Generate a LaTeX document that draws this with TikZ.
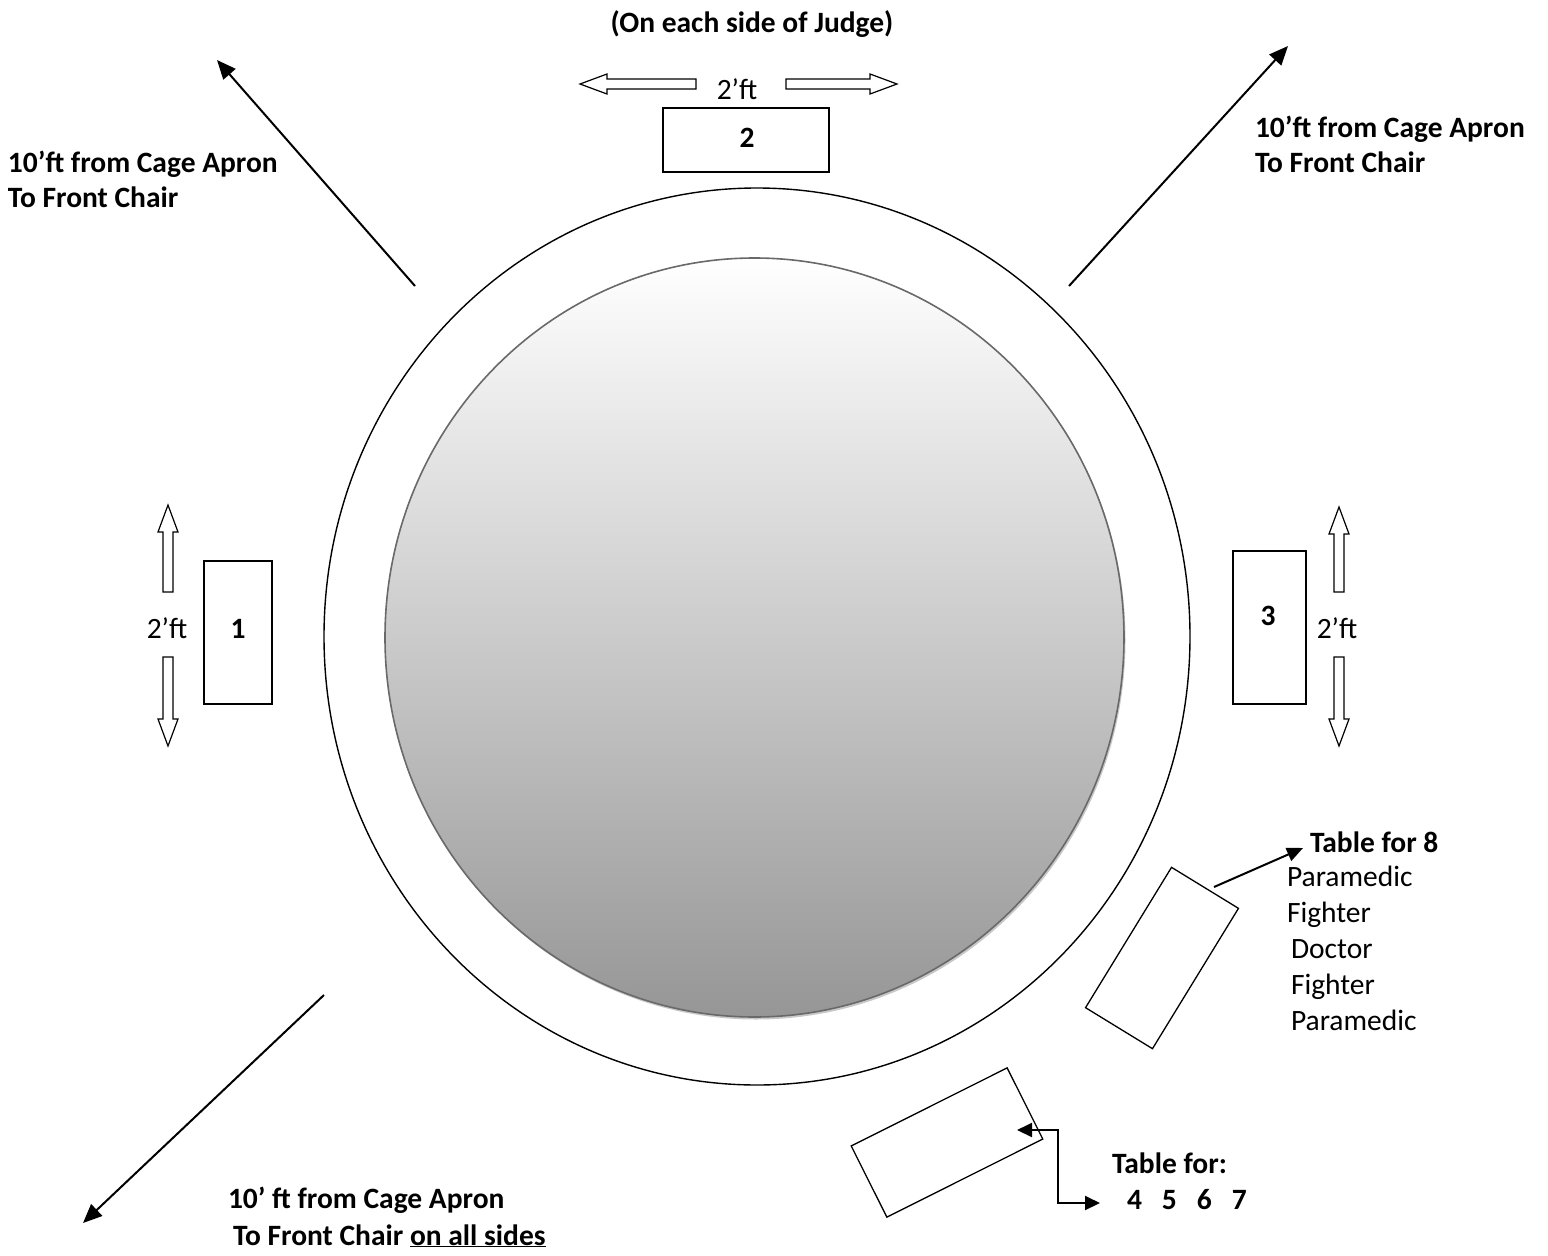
\documentclass[tikz,border=0pt]{standalone}
\usepackage{fontspec}
\setmainfont{Carlito}
\usetikzlibrary{arrows.meta}
\definecolor{rimgray}{RGB}{105,105,105}
\definecolor{shgray}{RGB}{200,200,200}
\definecolor{botgray}{RGB}{150,150,150}
\begin{document}
\begin{tikzpicture}[x=1pt,y=-1pt,
  txt/.style={inner sep=0pt, outer sep=0pt, font=\fontsize{29.5}{36}\selectfont, anchor=base west},
  btxt/.style={txt, font=\fontsize{29.5}{36}\selectfont\bfseries},
  ctxt/.style={txt, anchor=base},
  cbtxt/.style={btxt, anchor=base},
  judgebox/.style={draw, line width=1.3pt, inner sep=0pt, outer sep=0pt},
  diag/.style={line width=2pt, -{Triangle[length=19pt,width=16pt]}},
  thin arr/.style={line width=2pt, -{Triangle[length=16pt,width=14pt]}},
  both arr/.style={line width=2pt, {Triangle[length=15pt,width=14pt]}-{Triangle[length=15pt,width=14pt]}},
  pics/blockarr/.style={code={
    \draw[line width=1.2pt, fill=white] (0,-5) -- ({#1-27},-5) -- ({#1-27},-10) -- (#1,0)
      -- ({#1-27},10) -- ({#1-27},5) -- (0,5) -- cycle;}}
]
\useasboundingbox (0,0) rectangle (1548,1256);

% ring
\draw[line width=1.4pt] (757,636.5) ellipse [x radius=433pt, y radius=448.5pt];
% inner shaded disc with slight shadow
\fill[shgray] (756,640) ellipse [x radius=369.5pt, y radius=379.5pt];
\shade[top color=white, bottom color=botgray, draw=rimgray, line width=1.6pt]
  (754.5,637.5) ellipse [x radius=369.5pt, y radius=379.5pt];

% judge tables
\node[judgebox, minimum width=166pt, minimum height=64pt] (t2) at (746,140) {};
\node[judgebox, minimum width=68pt, minimum height=143pt] (t1) at (238,632.5) {};
\node[judgebox, minimum width=73pt, minimum height=153pt] (t3) at (1269.5,627.5) {};
\node[cbtxt] (l2) at (747,147) {2};
\node[cbtxt] (l1) at (238,638) {1};
\node[cbtxt] (l3) at (1268,625) {3};

% 2'ft labels and block arrows
\node[cbtxt] (judge) at (752,32) {(On each side of Judge)};
\node[ctxt] (d2) at (737,99) {2’ft};
\node[ctxt] (d1) at (167,638) {2’ft};
\node[ctxt] (d3) at (1337,638) {2’ft};
\pic[rotate=180] at (696,84) {blockarr=116};
\pic at (786,84) {blockarr=111};
\pic[rotate=90] at (168,592) {blockarr=87};
\pic[rotate=-90] at (168,657) {blockarr=89};
\pic[rotate=90] at (1339,592) {blockarr=85};
\pic[rotate=-90] at (1339,657) {blockarr=89};

% diagonal distance arrows
\coordinate (tlS) at (415,286); \coordinate (tlE) at (217,60);
\coordinate (trS) at (1069,286); \coordinate (trE) at (1288,46);
\coordinate (blS) at (324,995); \coordinate (blE) at (83,1223);
\draw[diag] (tlS) -- (tlE);
\draw[diag] (trS) -- (trE);
\draw[diag] (blS) -- (blE);

% distance texts
\node[btxt] (lt1) at (8,172) {10’ft from Cage Apron};
\node[btxt] (lt2) at (8,207) {To Front Chair};
\node[btxt] (rt1) at (1255,137) {10’ft from Cage Apron};
\node[btxt] (rt2) at (1255,172) {To Front Chair};
\node[btxt] (bt1) at (228,1208) {10’ ft from Cage Apron};
\node[btxt] (bt2) at (233,1245) {To Front Chair \underline{on all sides}};

% table for 8
\node[judgebox, minimum width=78.5pt, minimum height=164.6pt, rotate=-31.5] (t8) at (1162,958) {};
\coordinate (t8s) at (1214,887);
\coordinate (t8e) at (1303,848);
\draw[thin arr] (t8s) -- (t8e);
\node[btxt] (t8l) at (1310,852) {Table for 8};
\node[txt] (n1) at (1287,886) {Paramedic};
\node[txt] (n2) at (1287,922) {Fighter};
\node[txt] (n3) at (1291,958) {Doctor};
\node[txt] (n4) at (1291,994) {Fighter};
\node[txt] (n5) at (1291,1030) {Paramedic};

% table for 4-7
\node[judgebox, minimum width=174.4pt, minimum height=79.6pt, rotate=26.6] (t47) at (947,1142.5) {};
\coordinate (c47a) at (1017,1130);
\coordinate (c47b) at (1100,1203);
\draw[both arr] (c47a) -- (1058,1130) -- (1058,1203) -- (c47b);
\node[btxt] (t47l) at (1112,1173) {Table for:};
\node[btxt] (t47n) at (1127,1209) {4\hspace{20pt}5\hspace{20pt}6\hspace{20pt}7};
\end{tikzpicture}
\end{document}
